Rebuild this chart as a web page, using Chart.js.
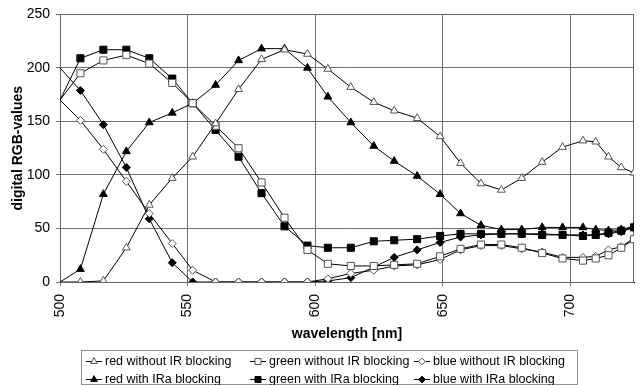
<!DOCTYPE html>
<html>
<head>
<meta charset="utf-8">
<script src="https://cdn.jsdelivr.net/npm/chart.js@4.4.1/dist/chart.umd.min.js"></script>
<style>
  html, body { margin: 0; padding: 0; background: #fff; }
  #wrap { width: 640px; height: 385px; }
</style>
</head>
<body>
<div id="wrap"><canvas id="chart"></canvas></div>
<script>
// wavelengths [nm] of the measuring points
const wavelength = [500, 508, 517, 526, 535, 544, 552, 561, 570, 579, 588, 597, 605, 614, 623, 631, 640, 649, 657, 665, 673, 681, 689, 697, 705, 710, 715, 720, 725];

const redNoIR   = [0, 0, 1, 32, 72, 97, 117, 148, 180, 208, 217, 213, 199, 182, 168, 160, 153, 136, 111, 92, 86, 97, 112, 126, 132, 131, 117, 107, 102];
const greenNoIR = [170, 195, 207, 212, 204, 186, 167, 146, 125, 93, 60, 30, 17, 15, 15, 16, 17, 24, 31, 35, 35, 32, 27, 22, 20, 22, 25, 32, 40];
const blueNoIR  = [170, 151, 124, 94, 64, 36, 11, 0, 0, 0, 0, 0, 3, 8, 11, 15, 16, 21, 30, 34, 34, 31, 28, 23, 23, 24, 30, 33, 41];
const redIRa    = [0, 12, 82, 122, 149, 158, 167, 184, 207, 218, 218, 200, 173, 149, 127, 113, 99, 82, 64, 53, 49, 49, 51, 51, 51, 49, 48, 49, 52];
const greenIRa  = [170, 209, 217, 217, 209, 190, 167, 142, 117, 83, 52, 34, 32, 32, 38, 39, 40, 43, 45, 45, 45, 45, 44, 44, 43, 44, 46, 48, 51];
const blueIRa   = [200, 179, 147, 107, 59, 18, 0, 0, 0, 0, 0, 0, 1, 4, 14, 23, 30, 37, 42, 44, 45, 45, 45, 44, 44, 44, 45, 47, 51];

const xTicks = [500, 550, 600, 650, 700];

Chart.defaults.font.family = '"Liberation Sans", Arial, sans-serif';
Chart.defaults.color = '#000';

function series(label, values, style, radius, filled) {
    return {
        label: label,
        data: values.map((v, i) => ({ x: wavelength[i], y: v })),
        showLine: true,
        borderColor: '#000',
        borderWidth: 1,
        tension: 0,
        pointStyle: style,
        legendRadius: radius,
        pointRadius: (c) => c.dataIndex === 0 ? 0 : radius,
        pointBackgroundColor: filled ? '#000' : '#fff',
        pointBorderColor: filled ? '#000' : '#555',
        pointBorderWidth: 1
    };
}

// frame round the plot area
const frame = {
    id: 'frame',
    beforeDatasetsDraw(chart) {
        const a = chart.chartArea, ctx = chart.ctx;
        ctx.save();
        ctx.strokeStyle = '#666';
        ctx.lineWidth = 1;
        ctx.strokeRect(Math.round(a.left) + 0.5, Math.round(a.top) + 0.5, Math.round(a.right - a.left) - 1, Math.round(a.bottom - a.top));
        ctx.restore();
    }
};

// excel-like legend box, 3 columns x 2 rows
const boxLegend = {
    id: 'boxLegend',
    afterDraw(chart) {
        const ctx = chart.ctx;
        const cols = [86, 250, 414];
        const rows = [361, 379];
        ctx.save();
        ctx.strokeStyle = '#909090';
        ctx.lineWidth = 1;
        ctx.strokeRect(81.5, 350.5, 496, 34);
        ctx.font = '12.5px "Liberation Sans", Arial, sans-serif';
        ctx.textBaseline = 'middle';
        chart.data.datasets.forEach((ds, i) => {
            const x = cols[i % 3], y = rows[Math.floor(i / 3)];
            ctx.strokeStyle = '#000';
            ctx.beginPath();
            ctx.moveTo(x, y + 0.5);
            ctx.lineTo(x + 16, y + 0.5);
            ctx.stroke();
            ctx.fillStyle = ds.pointBackgroundColor;
            ctx.strokeStyle = ds.pointBorderColor;
            Chart.helpers.drawPoint(ctx, { pointStyle: ds.pointStyle, radius: ds.legendRadius * 0.85, borderWidth: 1, rotation: 0 }, x + 8, y + 0.5);
            ctx.fillStyle = '#000';
            ctx.fillText(ds.label, x + 19, y + 0.5);
        });
        ctx.restore();
    }
};

const chart = document.querySelector('#chart').getContext('2d');

new Chart(chart, {
    type: 'scatter',
    data: {
        datasets: [
            series('red without IR blocking', redNoIR, 'triangle', 4.5, false),
            series('green without IR blocking', greenNoIR, 'rect', 5, false),
            series('blue without IR blocking', blueNoIR, 'rectRot', 4, false),
            series('red with IRa blocking', redIRa, 'triangle', 4.5, true),
            series('green with IRa blocking', greenIRa, 'rect', 5, true),
            series('blue with IRa blocking', blueIRa, 'rectRot', 4, true)
        ]
    },
    options: {
        responsive: true,
        maintainAspectRatio: false,
        animation: false,
        events: [],
        layout: { padding: { top: 12, right: 1, bottom: 40, left: 0 } },
        plugins: {
            legend: { display: false },
            tooltip: { enabled: false }
        },
        scales: {
            x: {
                type: 'linear',
                min: 500,
                max: 725,
                afterBuildTicks: (s) => { s.ticks = xTicks.map(v => ({ value: v })); },
                afterFit: (s) => { s.height = 63; },
                ticks: { maxRotation: 90, minRotation: 90, padding: 8, font: { size: 14 }, color: '#000' },
                grid: { color: '#707070', tickLength: 4, tickColor: '#707070' },
                border: { color: '#000' },
                title: { display: true, text: 'wavelength [nm]', font: { size: 14, weight: 'bold' }, color: '#000', padding: { top: 4, bottom: 2 } }
            },
            y: {
                min: 0,
                max: 250,
                afterFit: (s) => { s.width = 60; },
                ticks: { stepSize: 50, padding: 6, font: { size: 14 }, color: '#000' },
                grid: { color: '#707070', tickLength: 4, tickColor: '#707070' },
                border: { color: '#000' },
                title: { display: true, text: 'digital RGB-values', font: { size: 14, weight: 'bold' }, color: '#000', padding: { top: 10, bottom: 0 } }
            }
        }
    },
    plugins: [frame, boxLegend]
});
</script>
</body>
</html>
